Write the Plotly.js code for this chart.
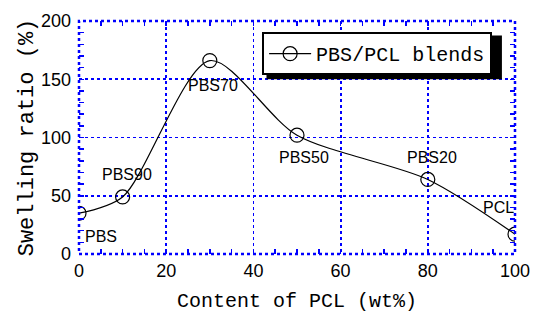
<!DOCTYPE html>
<html>
<head>
<meta charset="utf-8">
<script src="https://cdn.plot.ly/plotly-3.0.1.min.js"></script>
<style>html,body{margin:0;padding:0;background:#fff;}#chart{width:533px;height:317px;}</style>
</head>
<body>
<div id="chart"></div>
<script>
var pclContent = [0, 10, 30, 50, 80, 100];
var swellingRatio = [35, 49, 166, 102, 64, 17];
var seriesName = 'PBS/PCL blends';
var pointLabels = ['PBS', 'PBS90', 'PBS70', 'PBS50', 'PBS20', 'PCL'];
var labelX = [1, 11, 30.7, 51.6, 81, 96.3];
var labelY = [15, 68, 145, 83, 83, 39.5];
var labelAnchor = ['left', 'center', 'center', 'center', 'center', 'center'];

var blue = '#0000ff';
var annotations = pointLabels.map(function (t, i) {
  return {x: labelX[i], y: labelY[i], xref: 'x', yref: 'y', text: t, showarrow: false,
    xanchor: labelAnchor[i], yanchor: 'middle',
    font: {family: 'Liberation Sans, Arial, sans-serif', size: 16, color: '#000'}};
});

var trace = {
  x: pclContent, y: swellingRatio, name: seriesName, type: 'scatter', mode: 'lines+markers',
  line: {color: '#000', width: 1.2, shape: 'spline', smoothing: 0.8},
  marker: {symbol: 'circle-open', size: 14, color: '#000', line: {width: 1.2, color: '#000'}}
};

var axisCommon = {
  showgrid: true, gridcolor: blue, griddash: 'dot', gridwidth: 1.8,
  zeroline: false, showline: false, ticks: 'inside', ticklen: 5, tickcolor: blue, tickwidth: 1.5,
  mirror: 'ticks',
  tickfont: {family: 'Liberation Sans, Arial, sans-serif', size: 18, color: '#000'}
};

var layout = {
  width: 533, height: 317,
  margin: {l: 79, r: 18, t: 21, b: 63},
  paper_bgcolor: '#fff', plot_bgcolor: '#fff',
  showlegend: true,
  legend: {x: 0.42, y: 0.952, xanchor: 'left', yanchor: 'top', bgcolor: '#fff',
    bordercolor: '#000', borderwidth: 2, itemwidth: 42,
    font: {family: 'Liberation Mono, monospace', size: 20, color: '#000'}},
  xaxis: Object.assign({}, axisCommon, {
    range: [0, 100], dtick: 20, tick0: 0, ticklabelstandoff: 4,
    minor: {dtick: 5, ticks: 'inside', ticklen: 5, tickcolor: blue, tickwidth: 1.5, showgrid: false},
    title: {text: 'Content of PCL (wt%)', standoff: 12,
      font: {family: 'Liberation Mono, monospace', size: 20, color: '#000'}}
  }),
  yaxis: Object.assign({}, axisCommon, {
    range: [0, 200], dtick: 50, tick0: 0, ticklabelstandoff: 7,
    minor: {dtick: 10, ticks: 'inside', ticklen: 5, tickcolor: blue, tickwidth: 1.5, showgrid: false},
    title: {text: 'Swelling ratio (%)', standoff: 1,
      font: {family: 'Liberation Mono, monospace', size: 22, color: '#000'}}
  }),
  annotations: annotations,
  shapes: [
    {type: 'rect', xref: 'paper', yref: 'paper', x0: 0, x1: 1, y0: 0, y1: 1,
      line: {color: blue, width: 2.5, dash: 'dot'}, layer: 'above'},
    {type: 'rect', xref: 'paper', yref: 'paper', x0: 0.43, x1: 0.97, y0: 0.75, y1: 0.938,
      fillcolor: '#000', line: {width: 0}, layer: 'above'}
  ]
};

Plotly.newPlot('chart', [trace], layout, {displayModeBar: false, staticPlot: true});
</script>
</body>
</html>
